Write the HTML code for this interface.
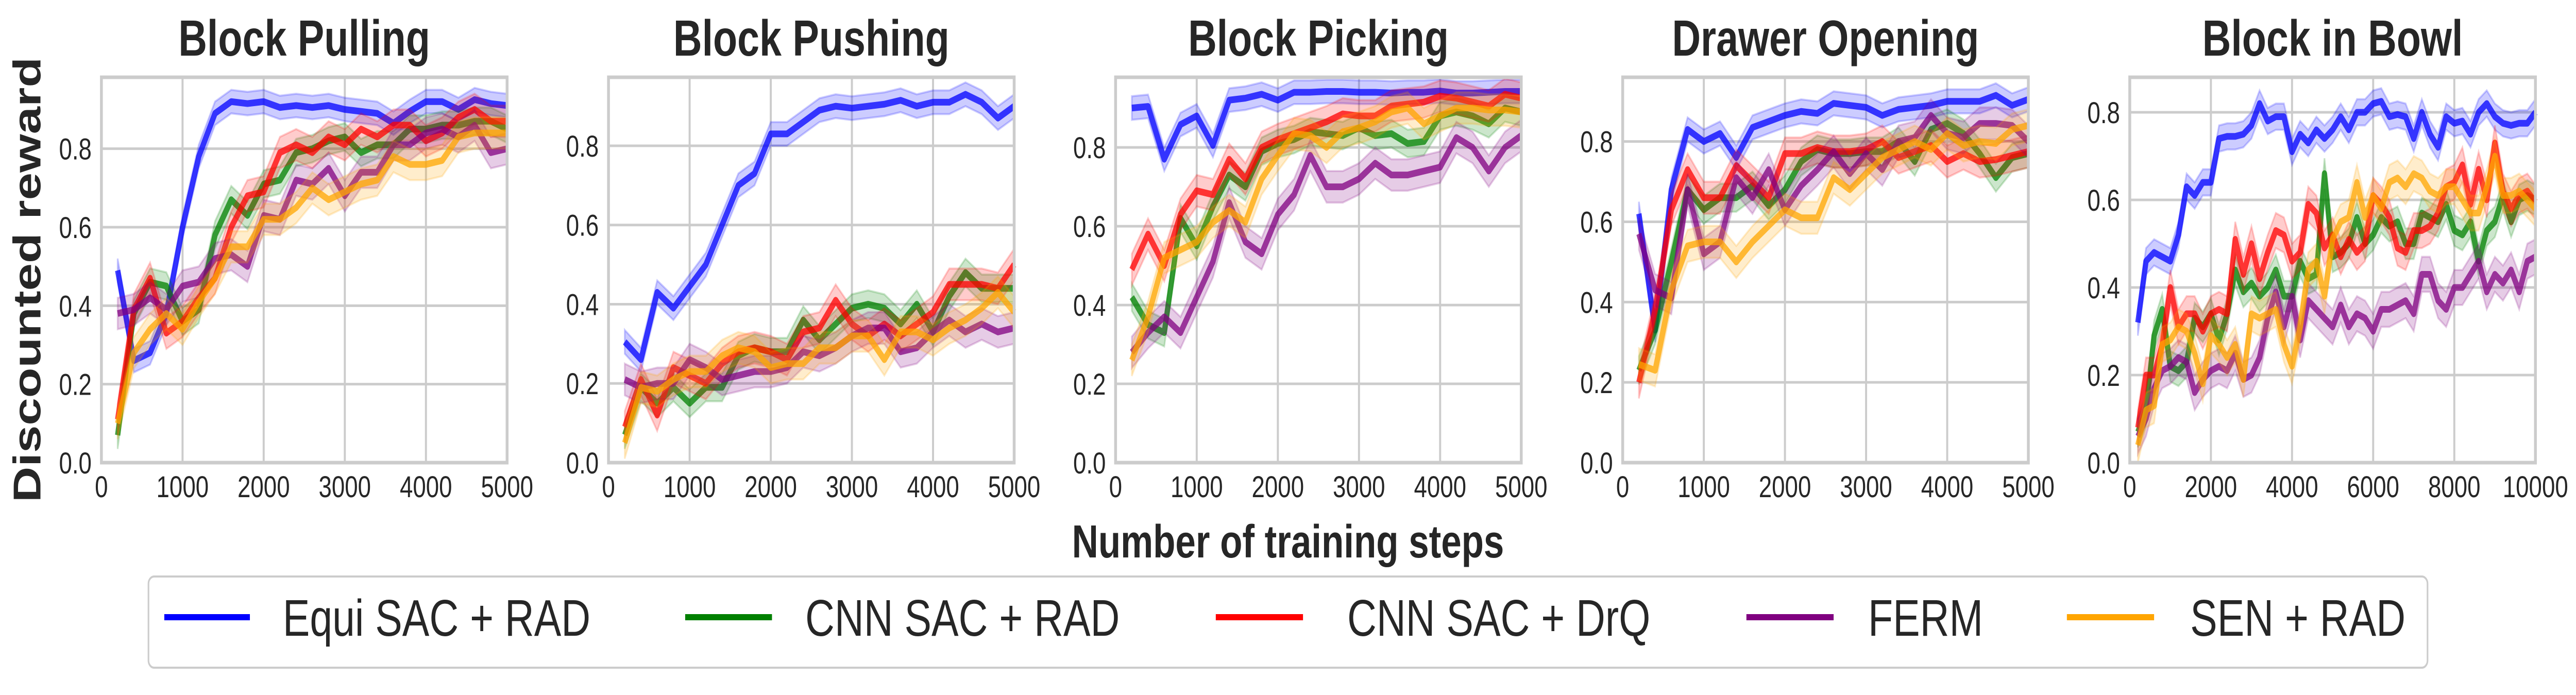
<!DOCTYPE html>
<html><head><meta charset="utf-8"><style>
html,body{margin:0;padding:0;background:#fff;width:100%;height:100%;overflow:hidden;}
svg{display:block;font-family:"Liberation Sans",Arial,sans-serif;width:100vw;height:100vh;}
</style></head><body>
<svg id="fig" viewBox="0 0 6350 1349" preserveAspectRatio="none" xmlns="http://www.w3.org/2000/svg">
<text x="0" y="0" transform="translate(100,543) rotate(-90)" text-anchor="middle" font-size="96" font-weight="bold" fill="#262626">Discounted reward</text>
<text x="3175" y="1082" text-anchor="middle" font-size="90" font-weight="bold" fill="#262626">Number of training steps</text>
<g>
<rect x="366" y="1119" width="5618" height="177" rx="14" fill="#fff" stroke="#cccccc" stroke-width="4"/>
<line x1="405" y1="1198" x2="616" y2="1198" stroke="#0000ff" stroke-width="12"/>
<text x="697" y="1234" font-size="100" fill="#262626">Equi SAC + RAD</text>
<line x1="1689" y1="1198" x2="1903" y2="1198" stroke="#008000" stroke-width="12"/>
<text x="1985" y="1234" font-size="100" fill="#262626">CNN SAC + RAD</text>
<line x1="2997" y1="1198" x2="3212" y2="1198" stroke="#ff0000" stroke-width="12"/>
<text x="3321" y="1234" font-size="100" fill="#262626">CNN SAC + DrQ</text>
<line x1="4305" y1="1198" x2="4520" y2="1198" stroke="#800080" stroke-width="12"/>
<text x="4605" y="1234" font-size="100" fill="#262626">FERM</text>
<line x1="5095" y1="1198" x2="5310" y2="1198" stroke="#ffa500" stroke-width="12"/>
<text x="5399" y="1234" font-size="100" fill="#262626">SEN + RAD</text>
</g>
</svg>
<script>
const titles = ["Block Pulling","Block Pushing","Block Picking","Drawer Opening","Block in Bowl"];
const yMax = [0.982,0.973,0.978,0.96,0.88];
const xMax = [5000,5000,5000,5000,10000];
const xTicks = [[0,1000,2000,3000,4000,5000],[0,1000,2000,3000,4000,5000],[0,1000,2000,3000,4000,5000],[0,1000,2000,3000,4000,5000],[0,2000,4000,6000,8000,10000]];
const yTicks = [0,0.2,0.4,0.6,0.8];
const seriesNames = ["equi-sac-rad","cnn-sac-rad","cnn-sac-drq","ferm","sen-rad"];
const colors = ["#0000ff","#008000","#ff0000","#800080","#ffa500"];
const bandHalf = [0.03,0.035,0.04,0.04,0.04];

const p1Equi=[0.49,0.26,0.28,0.38,0.6,0.78,0.89,0.92,0.915,0.92,0.905,0.91,0.905,0.91,0.9,0.895,0.89,0.865,0.895,0.92,0.92,0.9,0.925,0.915,0.91];
const p1Cnn=[0.07,0.38,0.46,0.45,0.36,0.39,0.58,0.67,0.63,0.71,0.72,0.79,0.8,0.82,0.83,0.79,0.81,0.81,0.85,0.85,0.86,0.86,0.87,0.87,0.85];
const p1Drq=[0.11,0.39,0.47,0.33,0.36,0.42,0.47,0.6,0.68,0.69,0.79,0.81,0.79,0.83,0.81,0.85,0.83,0.86,0.86,0.82,0.84,0.88,0.9,0.87,0.87];
const p1Ferm=[0.38,0.39,0.42,0.39,0.45,0.46,0.52,0.53,0.5,0.63,0.62,0.72,0.71,0.75,0.68,0.74,0.74,0.81,0.81,0.84,0.85,0.83,0.86,0.79,0.8];
const p1Sen=[0.1,0.28,0.34,0.38,0.34,0.41,0.47,0.55,0.55,0.62,0.62,0.65,0.7,0.67,0.69,0.71,0.72,0.78,0.76,0.76,0.77,0.83,0.84,0.84,0.84];

const p2Equi=[0.305,0.26,0.43,0.39,0.445,0.5,0.6,0.7,0.73,0.83,0.83,0.86,0.89,0.9,0.895,0.9,0.905,0.915,0.9,0.91,0.91,0.93,0.91,0.87,0.9];
const p2Cnn=[0.07,0.19,0.15,0.19,0.15,0.19,0.19,0.27,0.29,0.28,0.28,0.36,0.31,0.35,0.39,0.4,0.39,0.35,0.4,0.33,0.42,0.48,0.44,0.44,0.44];
const p2Drq=[0.09,0.21,0.12,0.24,0.22,0.2,0.25,0.28,0.29,0.28,0.26,0.33,0.34,0.41,0.35,0.32,0.35,0.32,0.35,0.38,0.45,0.45,0.45,0.44,0.5];
const p2Ferm=[0.21,0.19,0.2,0.2,0.26,0.24,0.21,0.22,0.23,0.23,0.24,0.28,0.27,0.29,0.32,0.34,0.34,0.28,0.29,0.33,0.36,0.33,0.35,0.33,0.34];
const p2Sen=[0.05,0.19,0.18,0.21,0.23,0.23,0.27,0.29,0.28,0.24,0.25,0.25,0.29,0.29,0.32,0.32,0.26,0.33,0.33,0.31,0.34,0.36,0.39,0.43,0.38];

const p3Equi=[0.9,0.904,0.77,0.858,0.88,0.805,0.92,0.925,0.935,0.92,0.94,0.94,0.942,0.942,0.94,0.94,0.938,0.94,0.94,0.943,0.938,0.938,0.94,0.942,0.942];
const p3Cnn=[0.42,0.35,0.33,0.62,0.55,0.65,0.73,0.7,0.79,0.81,0.82,0.84,0.835,0.83,0.85,0.83,0.835,0.81,0.815,0.88,0.89,0.88,0.86,0.9,0.89];
const p3Drq=[0.49,0.58,0.5,0.63,0.69,0.68,0.77,0.72,0.8,0.82,0.835,0.85,0.865,0.885,0.88,0.88,0.905,0.91,0.915,0.93,0.925,0.915,0.905,0.935,0.925];
const p3Ferm=[0.28,0.33,0.37,0.33,0.42,0.51,0.66,0.56,0.53,0.63,0.68,0.78,0.7,0.7,0.72,0.76,0.73,0.73,0.74,0.75,0.825,0.8,0.74,0.8,0.83];
const p3Sen=[0.26,0.37,0.52,0.54,0.56,0.61,0.64,0.61,0.72,0.78,0.835,0.83,0.8,0.84,0.85,0.865,0.89,0.9,0.86,0.88,0.9,0.9,0.895,0.895,0.89];

const p4Equi=[0.62,0.33,0.68,0.83,0.8,0.82,0.76,0.835,0.85,0.865,0.875,0.87,0.895,0.89,0.885,0.865,0.88,0.885,0.89,0.9,0.9,0.9,0.915,0.89,0.905];
const p4Cnn=[0.23,0.33,0.5,0.68,0.63,0.66,0.66,0.69,0.64,0.68,0.75,0.78,0.77,0.77,0.775,0.775,0.8,0.75,0.83,0.845,0.82,0.77,0.71,0.76,0.77];
const p4Drq=[0.2,0.38,0.63,0.73,0.66,0.66,0.74,0.7,0.66,0.77,0.77,0.785,0.775,0.775,0.78,0.8,0.76,0.775,0.79,0.75,0.77,0.75,0.755,0.765,0.775];
const p4Ferm=[0.57,0.43,0.41,0.68,0.52,0.55,0.71,0.66,0.73,0.63,0.69,0.73,0.775,0.72,0.77,0.73,0.8,0.81,0.865,0.82,0.81,0.845,0.845,0.84,0.8];
const p4Sen=[0.245,0.23,0.43,0.54,0.55,0.55,0.5,0.55,0.59,0.63,0.61,0.61,0.71,0.68,0.72,0.76,0.78,0.8,0.78,0.82,0.79,0.8,0.795,0.83,0.84];

const p5Equi=[0.32,0.46,0.48,0.47,0.46,0.52,0.63,0.61,0.64,0.64,0.74,0.745,0.745,0.75,0.77,0.82,0.78,0.79,0.79,0.71,0.75,0.73,0.76,0.74,0.76,0.79,0.76,0.8,0.8,0.82,0.825,0.79,0.795,0.79,0.74,0.8,0.75,0.72,0.79,0.775,0.78,0.75,0.8,0.82,0.79,0.775,0.77,0.775,0.775,0.8];
const p5Cnn=[0.07,0.12,0.29,0.35,0.22,0.21,0.23,0.33,0.31,0.34,0.28,0.34,0.44,0.39,0.41,0.38,0.4,0.44,0.38,0.38,0.46,0.42,0.43,0.66,0.47,0.48,0.5,0.56,0.5,0.52,0.56,0.54,0.55,0.5,0.5,0.57,0.56,0.55,0.59,0.53,0.52,0.55,0.46,0.53,0.55,0.61,0.55,0.6,0.61,0.6];
const p5Drq=[0.08,0.2,0.2,0.27,0.4,0.31,0.34,0.34,0.3,0.34,0.35,0.34,0.51,0.43,0.5,0.42,0.48,0.53,0.52,0.46,0.48,0.59,0.57,0.49,0.52,0.47,0.51,0.48,0.5,0.61,0.59,0.56,0.49,0.48,0.53,0.53,0.54,0.57,0.63,0.64,0.68,0.59,0.67,0.6,0.73,0.62,0.58,0.61,0.62,0.595];
const p5Ferm=[0.06,0.1,0.17,0.21,0.22,0.24,0.23,0.16,0.19,0.21,0.22,0.21,0.25,0.19,0.2,0.24,0.33,0.39,0.31,0.38,0.28,0.37,0.35,0.33,0.31,0.36,0.31,0.34,0.33,0.3,0.35,0.35,0.36,0.37,0.34,0.43,0.43,0.37,0.35,0.4,0.4,0.43,0.46,0.39,0.43,0.41,0.44,0.39,0.46,0.47];
const p5Sen=[0.04,0.12,0.13,0.27,0.28,0.31,0.3,0.25,0.18,0.29,0.27,0.24,0.27,0.19,0.34,0.33,0.34,0.35,0.27,0.22,0.31,0.44,0.46,0.38,0.51,0.55,0.56,0.64,0.56,0.61,0.58,0.64,0.65,0.63,0.66,0.65,0.62,0.61,0.63,0.63,0.6,0.57,0.57,0.63,0.7,0.61,0.61,0.62,0.6,0.58];

const panelData = [[p1Equi,p1Cnn,p1Drq,p1Ferm,p1Sen],[p2Equi,p2Cnn,p2Drq,p2Ferm,p2Sen],[p3Equi,p3Cnn,p3Drq,p3Ferm,p3Sen],[p4Equi,p4Cnn,p4Drq,p4Ferm,p4Sen],[p5Equi,p5Cnn,p5Drq,p5Ferm,p5Sen]];
const stepSize = [200,200,200,200,200];

const NS="http://www.w3.org/2000/svg";
const svg=document.getElementById('fig');
function mk(tag,attrs,parent){const e=document.createElementNS(NS,tag);for(const k in attrs)e.setAttribute(k,attrs[k]);(parent||svg).appendChild(e);return e;}
const TOP=150,BOT=898,W=1000;
for(let p=0;p<5;p++){
  const L=250+1250*p;
  const g=mk('g',{});
  
  
  const xs=v=>L+v/xMax[p]*W;
  const ys=v=>BOT-v/yMax[p]*(BOT-TOP);
  mk('rect',{x:L,y:TOP,width:W,height:BOT-TOP,fill:'#fff'},g);
  for(const t of xTicks[p]){
    const x=xs(t);
    const gl=mk('line',{x1:x,y1:TOP,x2:x,y2:BOT,stroke:'#cccccc','stroke-width':5},g);
    
    
    const tl=mk('text',{x:x,y:965,'text-anchor':'middle','font-size':58,fill:'#262626'},g);
    
    
    tl.textContent=String(t);
  }
  for(const t of yTicks){
    const y=ys(t);
    const gl=mk('line',{x1:L,y1:y,x2:L+W,y2:y,stroke:'#cccccc','stroke-width':5},g);
    
    
    const tl=mk('text',{x:L-24,y:y+21,'text-anchor':'end','font-size':58,fill:'#262626'},g);
    
    
    tl.textContent=t.toFixed(1);
  }
  const data=panelData[p];
  for(let s=0;s<5;s++){
    const vals=data[s];
    const hw=bandHalf[s];
    let up=[],lo=[],ln=[];
    vals.forEach((v,i)=>{const x=xs((i+1)*stepSize[p]);up.push(x+','+ys(v+hw));lo.unshift(x+','+ys(Math.max(0,v-hw)));ln.push(x+','+ys(v));});
    const band=mk('polygon',{points:up.concat(lo).join(' '),fill:colors[s],'fill-opacity':0.2,stroke:colors[s],'stroke-opacity':0.2,'stroke-width':4},g);
    
    
    const line=mk('polyline',{points:ln.join(' '),fill:'none',stroke:colors[s],'stroke-opacity':0.75,'stroke-width':13,'stroke-linejoin':'round'},g);
    
    
  }
  const fr=mk('rect',{x:L,y:TOP,width:W,height:BOT-TOP,fill:'none',stroke:'#cccccc','stroke-width':7},g);
  
  
  const tt=mk('text',{x:L+W/2,y:108,'text-anchor':'middle','font-size':98,'font-weight':'bold',fill:'#262626'},g);
  
  
  tt.textContent=titles[p];
}
</script>
</body></html>
